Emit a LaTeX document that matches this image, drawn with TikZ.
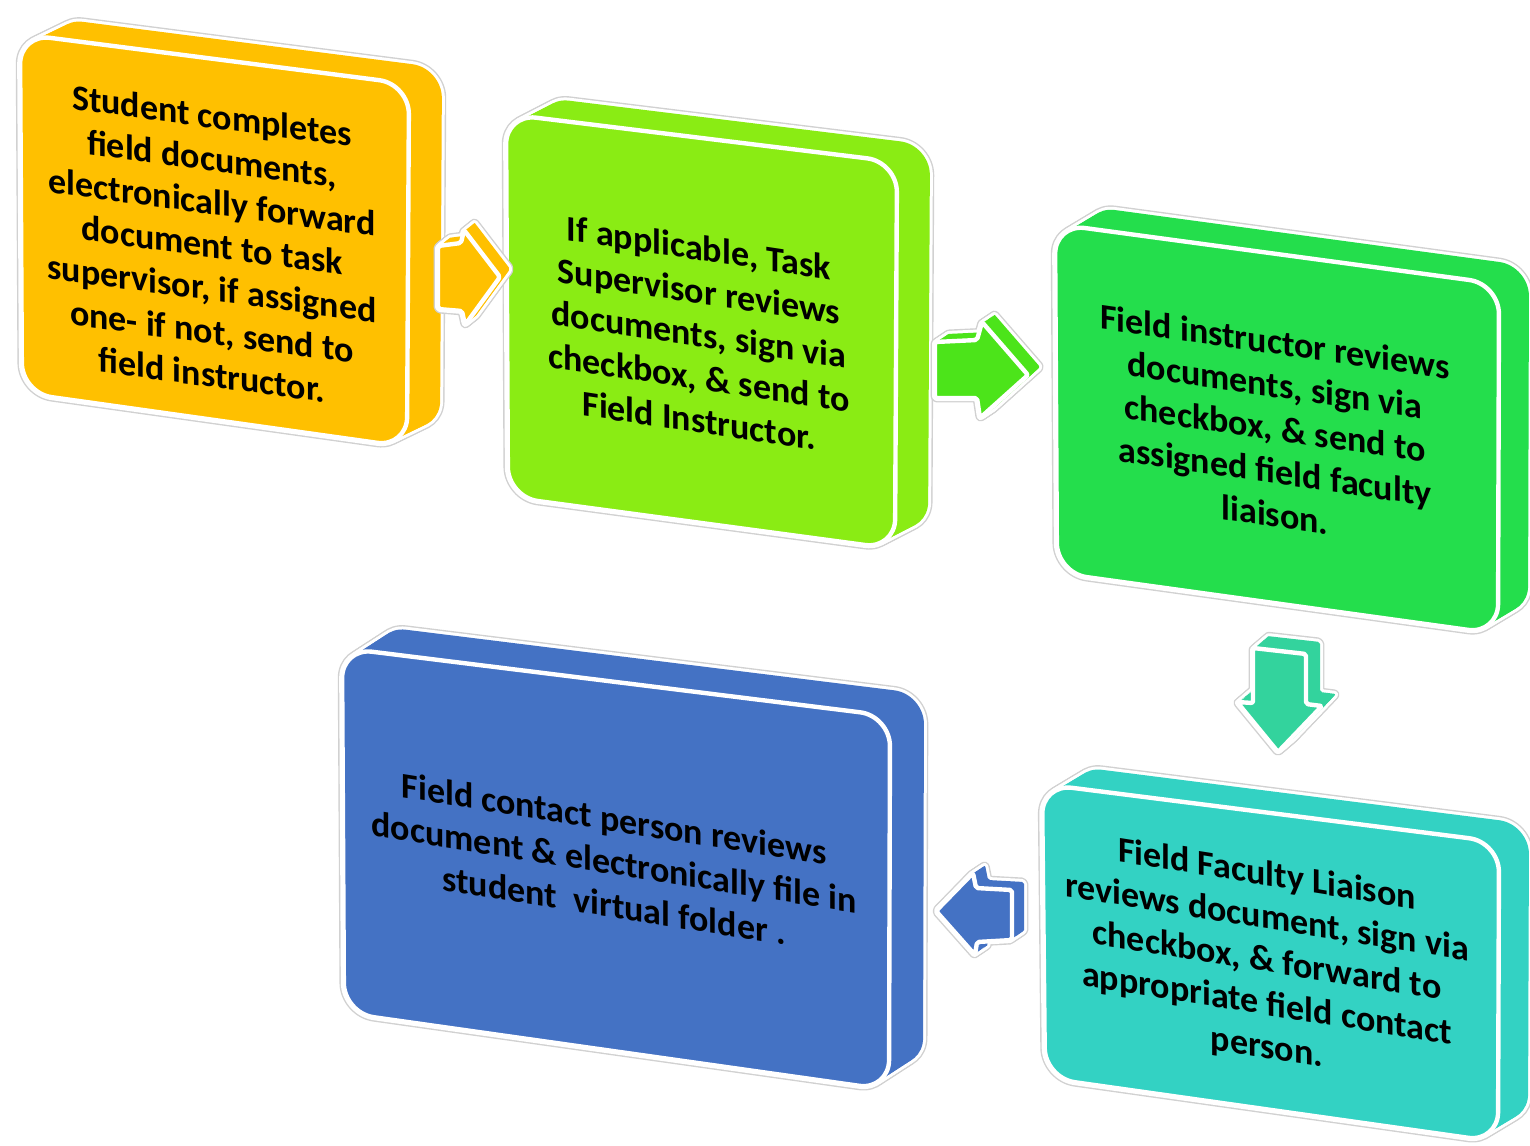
\documentclass[tikz,border=0pt]{standalone}
\usepackage{fontspec}
\setmainfont{Carlito}
\usetikzlibrary{calc}
\definecolor{corange}{HTML}{FFC000}
\definecolor{cgreenA}{HTML}{8AEC14}
\definecolor{cgreenB}{HTML}{24DE4C}
\definecolor{cteal}{HTML}{33D2C3}
\definecolor{cblue}{HTML}{4472C4}
\definecolor{carrgreen}{HTML}{4CE41A}
\definecolor{carrteal}{HTML}{33D39D}
\tikzset{
  txt/.style={font=\bfseries\fontsize{18}{21.6}\selectfont, align=center, text=black, inner sep=0pt},
}
% #1 corner radius, #2 colour, #3 dx, #4 dy, #5 path
\newcommand\solidshape[5]{%
  \foreach \i in {0,...,10} {\path[draw=black!18, line width=4.4pt, line join=round, rounded corners=#1, shift={(\i*#3/10,\i*#4/10)}] #5;}
  \foreach \i in {0,...,10} {\path[draw=white, line width=3pt, line join=round, rounded corners=#1, shift={(\i*#3/10,\i*#4/10)}] #5;}
  \foreach \i in {0,...,10} {\path[fill=#2, rounded corners=#1, shift={(\i*#3/10,\i*#4/10)}] #5;}
  \path[fill=#2, draw=white, line width=2.2pt, line join=round, rounded corners=#1] #5;
}
\begin{document}
\begin{tikzpicture}[x=0.5pt, y=-0.5pt]
\useasboundingbox (0,0) rectangle (1530,1145);
% boxes
\solidshape{15pt}{corange}{33}{-16}{(20,34) -- (409,84) -- (407,447) -- (22,393) -- cycle}
\solidshape{15pt}{cgreenA}{33}{-17}{(506,114) -- (897,162) -- (895,549) -- (508,497) -- cycle}
\solidshape{15pt}{cgreenB}{30}{-18}{(1055,224) -- (1499,284) -- (1498,634) -- (1057,573) -- cycle}
\solidshape{15pt}{cteal}{30}{-18}{(1042,784) -- (1499,842) -- (1498,1142) -- (1045,1078) -- cycle}
\solidshape{15pt}{cblue}{34}{-22}{(342,648) -- (890,716) -- (889,1090) -- (344,1013) -- cycle}
% block arrows
\solidshape{1pt}{corange}{10}{-8}{(438,246) -- (461,243) -- (464,230) -- (500,277) -- (465,325) -- (462,311) -- (438,309) -- cycle}
\solidshape{1pt}{carrgreen}{12}{-8}{(935,342) -- (977,340) -- (982,322) -- (1028,375) -- (980,418) -- (977,398) -- (935,398) -- cycle}
\solidshape{1pt}{carrteal}{14}{-12}{(1253,648) -- (1306,654) -- (1306,704) -- (1322,706) -- (1278,752) -- (1237,702) -- (1253,703) -- cycle}
\solidshape{1pt}{cblue}{12}{-8}{(936,911) -- (973,873) -- (976,888) -- (1012,890) -- (1012,940) -- (977,942) -- (975,955) -- cycle}
% texts
\node[txt, yslant=-0.135] (t1) at (212,245) {Student completes\\field documents,\\electronically forward\\document to task\\supervisor, if assigned\\one- if not, send to\\field instructor.};
\node[txt, yslant=-0.15] (t2) at (699,334) {If applicable, Task\\Supervisor reviews\\documents, sign via\\checkbox, \& send to\\Field Instructor.};
\node[txt, yslant=-0.145] (t3) at (1275,428) {Field instructor reviews\\documents, sign via\\checkbox, \& send to\\assigned field faculty\\liaison.};
\node[txt, yslant=-0.16] (t4) at (1267,962) {Field Faculty Liaison\\reviews document, sign via\\checkbox, \& forward to\\appropriate field contact\\person.};
\node[txt, yslant=-0.16] (t5) at (614,862) {Field contact person reviews\\document \& electronically file in\\student\ \ virtual folder .};
\end{tikzpicture}
\end{document}
